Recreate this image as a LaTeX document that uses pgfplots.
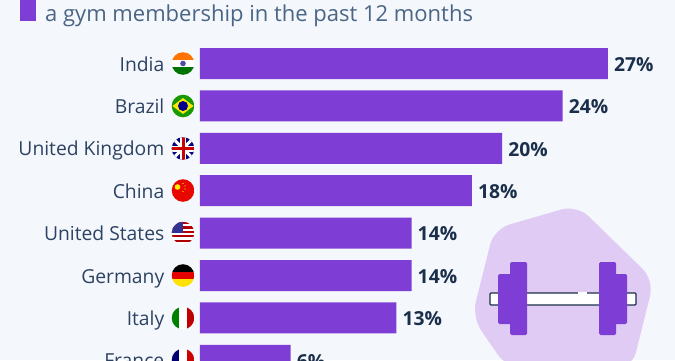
\documentclass[border=0pt]{standalone}
\usepackage{pgfplots}
\pgfplotsset{compat=1.18}
\usepackage{fontspec}
\setmainfont{Open Sans}
\definecolor{bgc}{HTML}{F4F7FB}
\definecolor{barc}{HTML}{7E3ED6}
\definecolor{txtc}{HTML}{2D4263}
\definecolor{titc}{HTML}{4A6585}
\definecolor{valc}{HTML}{1B2F4B}
\definecolor{blobc}{HTML}{DFCBF3}
\newcommand{\flagat}[2]{\begin{scope}[shift={(183,#1)}]\clip (0,0) circle (11.3);#2\end{scope}}
\begin{document}
\begin{tikzpicture}
\path[use as bounding box, clip] (0,0) rectangle (675pt,360pt);
\fill[bgc] (0,0) rectangle (675pt,360pt);
\begin{axis}[
  at={(200pt,360pt)}, anchor=north west,
  x=15.11pt, y=42.4pt, y dir=reverse,
  xmin=0, xmax=31.43, ymin=-1.498, ymax=7.5,
  clip=false,
  hide x axis,
  axis line style={draw=none},
  major tick length=0pt,
  ytick={0,1,2,3,4,5,6,7},
  yticklabels={India,Brazil,United Kingdom,China,United States,Germany,Italy,France},
  y tick label style={font=\fontsize{19.3}{23}\selectfont, text=txtc, anchor=base east, inner sep=0pt, xshift=-35.5pt, yshift=-7.5pt},
  xbar, bar width=31pt,
  point meta=x,
  /pgf/number format/assume math mode=true,
  nodes near coords={\pgfmathprintnumber{\pgfplotspointmeta}\%},
  nodes near coords style={font=\fontsize{19.3}{23}\selectfont\bfseries, text=valc, anchor=west, inner sep=0pt, xshift=6pt, yshift=-0.8pt},
]
\addplot[fill=barc, draw=none] coordinates {(27,0) (24,1) (20,2) (18,3) (14,4) (14,5) (13,6) (6,7)};
\end{axis}
\begin{scope}[shift={(0,360pt)},x=1pt,y=-1pt]
% title
\fill[barc] (20,-2) rectangle (36,21);
\node[anchor=base west, inner sep=0pt, text=titc, font=\fontsize{22}{26}\selectfont] at (45,21) {a gym membership in the past 12 months};
% flags
\flagat{63.5}{
 \fill[white] (-12,-12) rectangle (12,12);
 \fill[orange!90!red] (-12,-12) rectangle (12,-3.8);
 \fill[green!45!black] (-12,3.8) rectangle (12,12);
 \fill[blue!50!black!70] (0,0) circle (2.8);}
\flagat{106}{
 \fill[green!55!black!90!yellow] (-12,-12) rectangle (12,12);
 \fill[yellow!90!orange] (-10.5,0) -- (0,-8) -- (10.5,0) -- (0,8) -- cycle;
 \fill[blue!55!black] (0,0) circle (5);}
\flagat{148.5}{
 \fill[blue!50!black] (-12,-12) rectangle (12,12);
 \draw[white,line width=3] (-12,-12) -- (12,12) (-12,12) -- (12,-12);
 \draw[white,line width=6] (-12,0) -- (12,0) (0,-12) -- (0,12);
 \draw[red!80!black,line width=3] (-12,0) -- (12,0) (0,-12) -- (0,12);}
\flagat{190.5}{
 \fill[red!90!black!95!orange] (-12,-12) rectangle (12,12);
 \fill[yellow] (-5.5,-3.5) circle (2.8);
 \fill[yellow] (0,-7) circle (.7) (2,-4.5) circle (.7) (2,-1.5) circle (.7) (0,1) circle (.7);}
\flagat{233}{
 \fill[white] (-12,-12) rectangle (12,12);
 \foreach \y in {-11,-6.6,-2.2,2.2,6.6} \fill[red!70!black] (-12,\y) rectangle (12,\y+2.2);
 \fill[blue!45!black!80] (-12,-12) rectangle (0,0);}
\flagat{275.5}{
 \fill[black] (-12,-12) rectangle (12,-3.8);
 \fill[red!90!black] (-12,-3.8) rectangle (12,3.8);
 \fill[yellow!85!orange] (-12,3.8) rectangle (12,12);}
\flagat{318}{
 \fill[white] (-12,-12) rectangle (12,12);
 \fill[green!50!black] (-12,-12) rectangle (-3.8,12);
 \fill[red!75!black] (3.8,-12) rectangle (12,12);}
\flagat{360}{
 \fill[white] (-12,-12) rectangle (12,12);
 \fill[blue!45!black] (-12,-12) rectangle (-3.8,12);
 \fill[red!80!black] (3.8,-12) rectangle (12,12);}
% dumbbell
\fill[blobc,rounded corners=16] (577,205) -- (654,280) -- (632,368) -- (507,368) -- (472,317) -- (494,229) -- cycle;
\filldraw[fill=white,draw=valc,line width=1.3,rounded corners=1] (490,293) rectangle (636,305);
\fill[white] (578,291.5) rectangle (587,294.5);
\fill[barc,rounded corners=1.5] (498,274) rectangle (515,324);
\fill[barc,rounded corners=1.5] (510,262) rectangle (527,335);
\fill[barc,rounded corners=1.5] (610,274) rectangle (627,324);
\fill[barc,rounded corners=1.5] (599,262) rectangle (616,335);
\end{scope}
\end{tikzpicture}
\end{document}
